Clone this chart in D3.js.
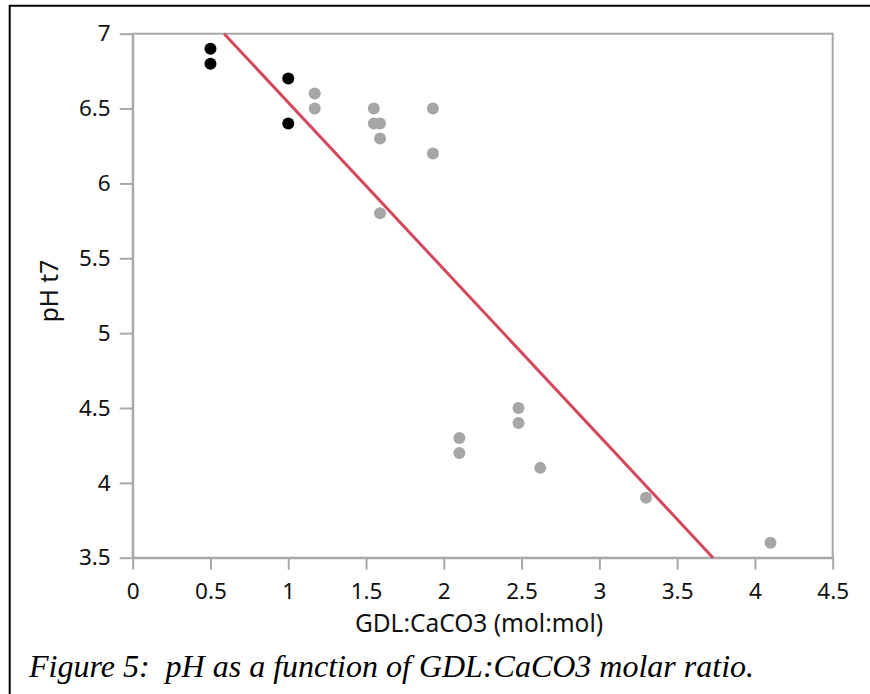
<!DOCTYPE html>
<html>
<head>
<meta charset="utf-8">
<script src="https://cdn.jsdelivr.net/npm/d3@7"></script>
<style>
  body { margin: 0; background: #fff; }
  svg { display: block; }
  .tick text { font-family: "Noto Sans", "Open Sans", sans-serif; font-size: 22.5px; fill: #111; }
</style>
</head>
<body>
<script>
// pH at t7 against GDL:CaCO3 molar ratio
const blackX = [0.5, 0.5, 1, 1]
const blackY = [6.9, 6.8, 6.7, 6.4]
const grayX = [1.17, 1.17, 1.55, 1.55, 1.59, 1.59, 1.59, 1.93, 1.93, 2.1, 2.1, 2.48, 2.48, 2.62, 3.3, 4.1]
const grayY = [6.6, 6.5, 6.5, 6.4, 6.4, 6.3, 5.8, 6.5, 6.2, 4.3, 4.2, 4.5, 4.4, 4.1, 3.9, 3.6]
// fitted line pH = intercept + slope * ratio
const fitIntercept = 7.654
const fitSlope = -1.1135
const xTicks = [0, 0.5, 1, 1.5, 2, 2.5, 3, 3.5, 4, 4.5]
const yTicks = [3.5, 4, 4.5, 5, 5.5, 6, 6.5, 7]
const xTitle = 'GDL:CaCO3 (mol:mol)'
const yTitle = 'pH t7'
const caption = 'Figure 5:  pH as a function of GDL:CaCO3 molar ratio.'

const width = 870
const height = 694
const plotL = 132.7, plotR = 832.7, plotT = 33.7, plotB = 557.7

const svg = d3.select('body').append('svg')
  .attr('width', width)
  .attr('height', height)

// outer frame (only top and left edges show in the picture)
svg.append('path')
  .attr('d', `M9.7,${height + 5} V5.7 H${width + 5}`)
  .attr('fill', 'none')
  .attr('stroke', '#000')
  .attr('stroke-width', 2)

const x = d3.scaleLinear().domain([0, 4.5]).range([plotL, plotR])
const y = d3.scaleLinear().domain([3.5, 7]).range([plotB, plotT])

const axisColor = '#a8a8a8'

// plot box
svg.append('rect')
  .attr('x', plotL).attr('y', plotT)
  .attr('width', plotR - plotL).attr('height', plotB - plotT)
  .attr('fill', 'none')
  .attr('stroke', axisColor)
  .attr('stroke-width', 2)

const gx = svg.append('g')
  .attr('transform', `translate(0,${plotB})`)
  .call(d3.axisBottom(x).tickValues(xTicks).tickFormat(d3.format('')).tickSize(12).tickSizeOuter(0).tickPadding(13))
const gy = svg.append('g')
  .attr('transform', `translate(${plotL},0)`)
  .call(d3.axisLeft(y).tickValues(yTicks).tickFormat(d3.format('')).tickSize(13).tickSizeOuter(0).tickPadding(9))

for (const g of [gx, gy]) {
  g.select('.domain').attr('stroke', axisColor).attr('stroke-width', 2)
  g.selectAll('.tick line').attr('stroke', axisColor).attr('stroke-width', 2)
}

// fit line, clipped to the plot range
const xAtTop = (7 - fitIntercept) / fitSlope
const xAtBottom = (3.5 - fitIntercept) / fitSlope
const line = d3.line().x(d => x(d)).y(d => y(fitIntercept + fitSlope * d))
svg.append('path')
  .attr('d', line([xAtTop, xAtBottom]))
  .attr('fill', 'none')
  .attr('stroke', '#d5475b')
  .attr('stroke-width', 3)

svg.append('g').selectAll('circle')
  .data(grayX.map((v, i) => [v, grayY[i]]))
  .join('circle')
  .attr('cx', d => x(d[0]))
  .attr('cy', d => y(d[1]))
  .attr('r', 6)
  .attr('fill', '#a6a6a6')

svg.append('g').selectAll('circle')
  .data(blackX.map((v, i) => [v, blackY[i]]))
  .join('circle')
  .attr('cx', d => x(d[0]))
  .attr('cy', d => y(d[1]))
  .attr('r', 6)
  .attr('fill', '#000')

svg.append('text')
  .attr('x', 479)
  .attr('y', 632)
  .attr('text-anchor', 'middle')
  .style('font-family', '"Noto Sans", "Open Sans", sans-serif')
  .style('font-size', '24.5px')
  .attr('fill', '#111')
  .text(xTitle)

svg.append('text')
  .attr('transform', `translate(57.5,291) rotate(-90)`)
  .attr('text-anchor', 'middle')
  .style('font-family', '"Noto Sans", "Open Sans", sans-serif')
  .style('font-size', '24.5px')
  .attr('fill', '#111')
  .text(yTitle)

svg.append('text')
  .attr('x', 29)
  .attr('y', 677)
  .style('font-family', '"Liberation Serif", "Times New Roman", serif')
  .style('font-style', 'italic')
  .style('font-size', '32px')
  .style('white-space', 'pre')
  .attr('fill', '#000')
  .text(caption)
</script>
</body>
</html>
